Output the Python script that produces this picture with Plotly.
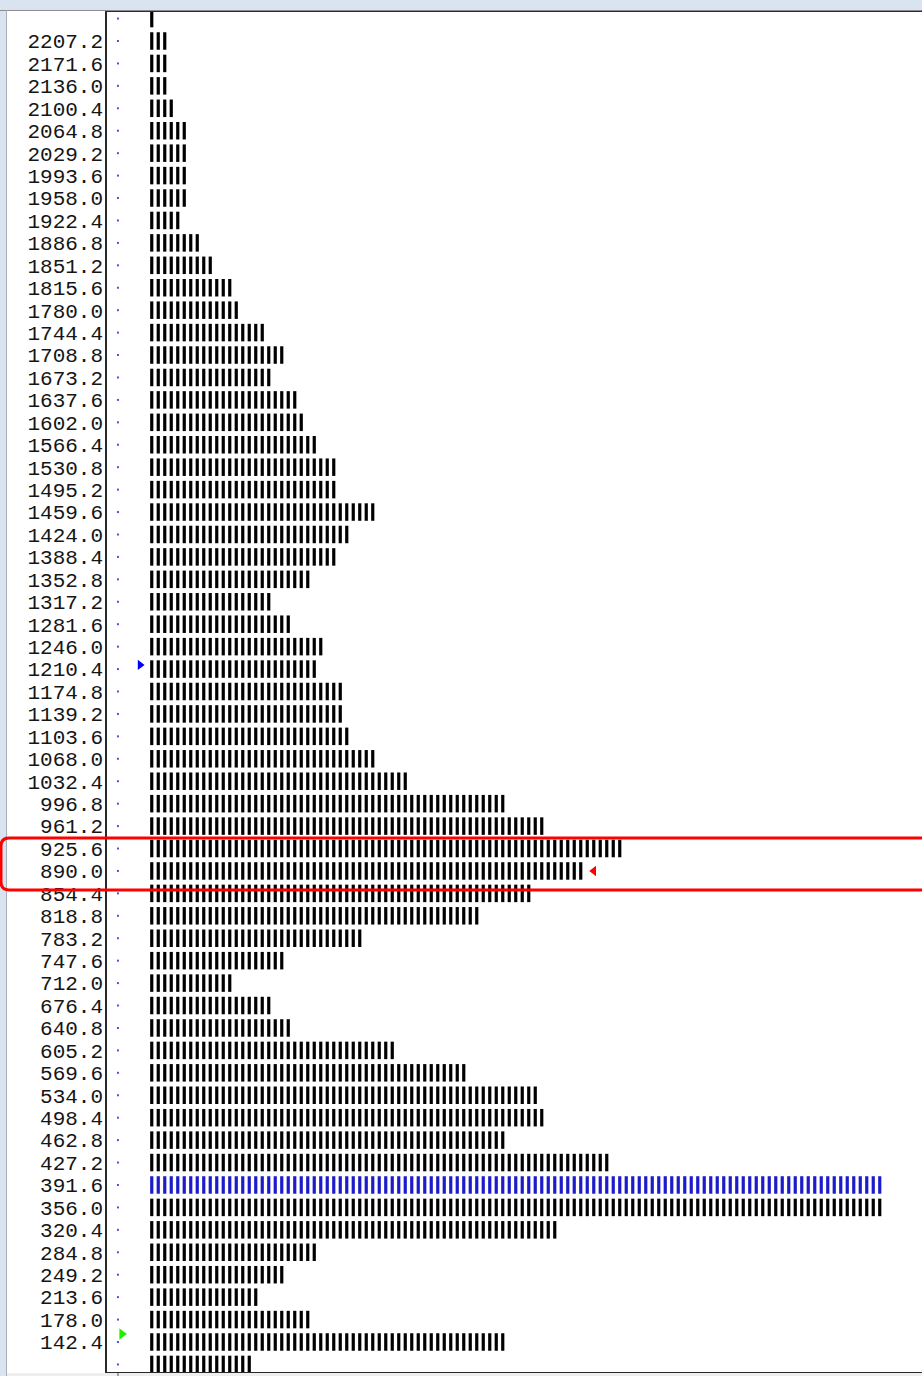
import plotly.graph_objects as go

# Price levels (row centres), top to bottom
prices = [2242.8, 2207.2, 2171.6, 2136.0, 2100.4, 2064.8, 2029.2, 1993.6, 1958.0, 1922.4,
          1886.8, 1851.2, 1815.6, 1780.0, 1744.4, 1708.8, 1673.2, 1637.6, 1602.0, 1566.4,
          1530.8, 1495.2, 1459.6, 1424.0, 1388.4, 1352.8, 1317.2, 1281.6, 1246.0, 1210.4,
          1174.8, 1139.2, 1103.6, 1068.0, 1032.4, 996.8, 961.2, 925.6, 890.0, 854.4,
          818.8, 783.2, 747.6, 712.0, 676.4, 640.8, 605.2, 569.6, 534.0, 498.4,
          462.8, 427.2, 391.6, 356.0, 320.4, 284.8, 249.2, 213.6, 178.0, 142.4, 106.8]

# TPO count per price row
tpo_counts = [1, 3, 3, 3, 4, 6, 6, 6, 6, 5,
              8, 10, 13, 14, 18, 21, 19, 23, 24, 26,
              29, 29, 35, 31, 29, 25, 19, 22, 27, 26,
              30, 30, 31, 35, 40, 55, 61, 73, 67, 59,
              51, 33, 21, 13, 19, 22, 38, 49, 60, 61,
              55, 71, 113, 113, 63, 26, 21, 17, 25, 55, 16]

# labelled levels on the axis
label_vals = [2207.2, 2171.6, 2136.0, 2100.4, 2064.8, 2029.2, 1993.6, 1958.0, 1922.4,
              1886.8, 1851.2, 1815.6, 1780.0, 1744.4, 1708.8, 1673.2, 1637.6, 1602.0, 1566.4,
              1530.8, 1495.2, 1459.6, 1424.0, 1388.4, 1352.8, 1317.2, 1281.6, 1246.0, 1210.4,
              1174.8, 1139.2, 1103.6, 1068.0, 1032.4, 996.8, 961.2, 925.6, 890.0, 854.4,
              818.8, 783.2, 747.6, 712.0, 676.4, 640.8, 605.2, 569.6, 534.0, 498.4,
              462.8, 427.2, 391.6, 356.0, 320.4, 284.8, 249.2, 213.6, 178.0, 142.4]
label_text = ["2207.2", "2171.6", "2136.0", "2100.4", "2064.8", "2029.2", "1993.6", "1958.0", "1922.4",
              "1886.8", "1851.2", "1815.6", "1780.0", "1744.4", "1708.8", "1673.2", "1637.6", "1602.0", "1566.4",
              "1530.8", "1495.2", "1459.6", "1424.0", "1388.4", "1352.8", "1317.2", "1281.6", "1246.0", "1210.4",
              "1174.8", "1139.2", "1103.6", "1068.0", "1032.4", "996.8", "961.2", "925.6", "890.0", "854.4",
              "818.8", "783.2", "747.6", "712.0", "676.4", "640.8", "605.2", "569.6", "534.0", "498.4",
              "462.8", "427.2", "391.6", "356.0", "320.4", "284.8", "249.2", "213.6", "178.0", "142.4"]

poc_price = 391.6          # point of control (blue row)
open_price = 155.0         # green marker
vah_price = 1217.0         # blue marker
close_price = 890.0        # red marker
highlight_rows = [925.6, 890.0]

# figure geometry
W, H = 922, 1376
L, R, T, B = 107, 0, 12, 4
PW, PH = W - L - R, H - T - B
STEP = 35.6

def px_x(px):
    return (px - L) / PW

def px_y(py):
    return (H - B - py) / PH

# split rows into normal and POC ticks
xs, ys, pxs, pys = [], [], [], []
for p, n in zip(prices, tpo_counts):
    for i in range(n):
        if p == poc_price:
            pxs.append(i)
            pys.append(p)
        else:
            xs.append(i)
            ys.append(p)

close_count = tpo_counts[prices.index(close_price)]

fig = go.Figure()

tick_style = dict(symbol="line-ns", size=12.5)
fig.add_trace(go.Scatter(
    x=xs, y=ys, mode="markers", hoverinfo="skip",
    marker=dict(**tick_style, color="black", line=dict(color="black", width=3.2))))
fig.add_trace(go.Scatter(
    x=pxs, y=pys, mode="markers", hoverinfo="skip",
    marker=dict(**tick_style, color="#1c1ccc", line=dict(color="#1c1ccc", width=3.2))))

# row dots
fig.add_trace(go.Scatter(
    x=[-5.2] * len(prices), y=prices, mode="markers", hoverinfo="skip",
    marker=dict(symbol="square", size=2, color="#4a4aff")))

# session markers
fig.add_trace(go.Scatter(
    x=[-1.8], y=[vah_price], mode="markers", hoverinfo="skip",
    marker=dict(symbol="triangle-right", size=9, color="#0000ff")))
fig.add_trace(go.Scatter(
    x=[-4.6], y=[open_price], mode="markers", hoverinfo="skip",
    marker=dict(symbol="triangle-right", size=10, color="#22ee00")))
fig.add_trace(go.Scatter(
    x=[close_count + 1], y=[close_price], mode="markers", hoverinfo="skip",
    marker=dict(symbol="triangle-left", size=9, color="#ff0000")))

x_unit = 6.5
x0 = -44.75 / x_unit
y_scale = 1301 / (2207.2 - 142.4)
y_top = 2207.2 + (41 - T) / y_scale
y_bot = y_top - PH / y_scale

# red highlight box with rounded left corners
hy_top = max(highlight_rows) + 0.47 * STEP
hy_bot = min(highlight_rows) - 0.85 * STEP
rx = 8 / PW
ry = 8 / y_scale
bx0 = px_x(1)
bx1 = px_x(940)
box_path = (f"M {bx0 + rx},{hy_top} L {bx1},{hy_top} L {bx1},{hy_bot} L {bx0 + rx},{hy_bot} "
            f"Q {bx0},{hy_bot} {bx0},{hy_bot + ry} L {bx0},{hy_top - ry} "
            f"Q {bx0},{hy_top} {bx0 + rx},{hy_top} Z")

shapes = [
    # window chrome on top
    dict(type="rect", xref="paper", yref="paper", x0=px_x(0), x1=1, y0=px_y(10), y1=px_y(0),
         fillcolor="#d9e4f0", line_width=0, layer="below"),
    dict(type="line", xref="paper", yref="paper", x0=px_x(0), x1=1, y0=px_y(10.5), y1=px_y(10.5),
         line=dict(color="#8c8c8c", width=1)),
    # left window border
    dict(type="rect", xref="paper", yref="paper", x0=px_x(0), x1=px_x(6), y0=px_y(H), y1=px_y(10),
         fillcolor="#d9e4f0", line_width=0, layer="below"),
    dict(type="line", xref="paper", yref="paper", x0=px_x(6.5), x1=px_x(6.5), y0=px_y(H), y1=px_y(10),
         line=dict(color="#a8b0b8", width=1)),
    # panel below
    dict(type="rect", xref="paper", yref="paper", x0=px_x(7), x1=1, y0=px_y(H), y1=px_y(1373),
         fillcolor="#eeeeee", line_width=0),
    dict(type="line", xref="paper", yref="paper", x0=px_x(118), x1=px_x(118), y0=px_y(H), y1=px_y(1373),
         line=dict(color="#555555", width=1)),
    # highlight box
    dict(type="path", xref="paper", yref="y", path=box_path,
         line=dict(color="#ff0000", width=3), layer="above"),
]

fig.update_layout(
    width=W, height=H,
    margin=dict(l=L, r=R, t=T, b=B),
    paper_bgcolor="white", plot_bgcolor="white",
    showlegend=False,
    shapes=shapes,
    xaxis=dict(range=[x0, x0 + PW / x_unit], showgrid=False, zeroline=False,
               showticklabels=False, ticks="", showline=True, mirror=True,
               linecolor="#2a2a2a", linewidth=2),
    yaxis=dict(range=[y_bot, y_top], showgrid=False, zeroline=False,
               tickvals=label_vals, ticktext=label_text, ticks="",
               showline=True, linecolor="#2a2a2a", linewidth=1.5,
               tickfont=dict(family="Liberation Mono", size=21, color="#151515"),
               ticklabelstandoff=-2),
)

fig.write_html("out.html", config={"displayModeBar": False},
               post_script="document.body.style.margin='0px';")
